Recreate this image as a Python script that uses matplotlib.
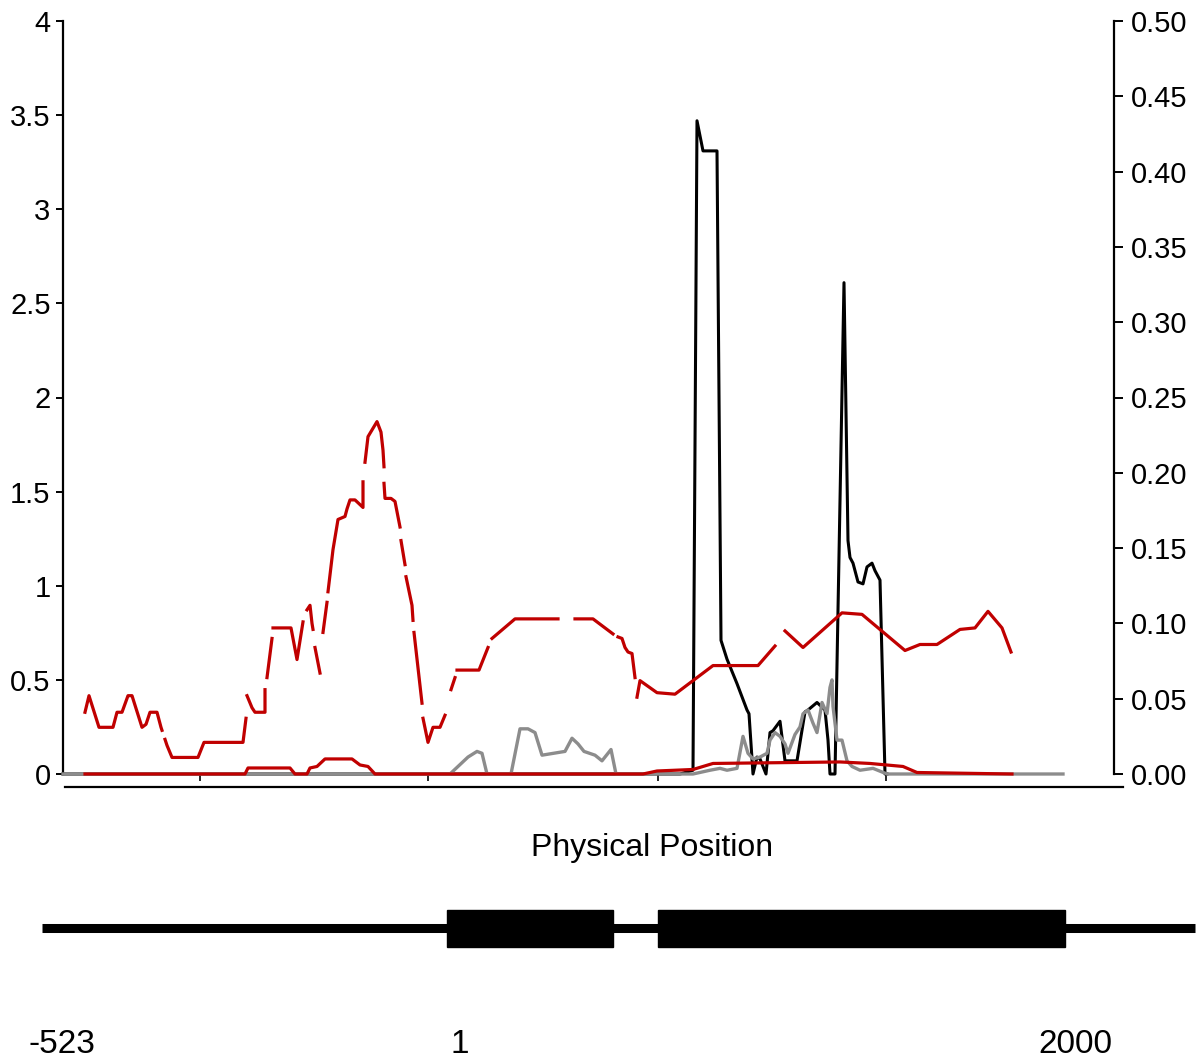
"""Sliding-window statistics along the gene, with gene model underneath."""
import numpy as np
import matplotlib
matplotlib.use("Agg")
import matplotlib.pyplot as plt
from matplotlib.lines import Line2D
from matplotlib.patches import Rectangle

plt.rcParams["font.family"] = ["Liberation Sans", "DejaVu Sans"]

# ---- data (x = position index along the plotted window) -------------------
# left axis series
black_x = [0, 617, 630, 634, 640, 654, 658, 664, 674, 679, 684, 686, 690, 694,
           697, 703, 707, 710, 717, 722, 734, 742, 745, 754, 762, 765, 767, 772,
           781, 785, 787, 790, 795, 800, 804, 809, 812, 817, 822, 824]
black_y = [0, 0, 0.02, 3.47, 3.31, 3.31, 0.71, 0.61, 0.48, 0.41, 0.34, 0.32, 0,
           0.09, 0.08, 0, 0.22, 0.23, 0.28, 0.07, 0.07, 0.33, 0.34, 0.38, 0.34,
           0.18, 0, 0, 2.61, 1.24, 1.15, 1.12, 1.02, 1.01, 1.10, 1.12, 1.08,
           1.03, 0, 0]

gray_x = [0, 387, 405, 414, 419, 424, 448, 457, 465, 472, 479, 502, 509, 515,
          521, 532, 539, 548, 553, 630, 647, 657, 664, 674, 680, 685, 690, 697,
          704, 707, 712, 717, 722, 725, 732, 737, 740, 745, 750, 754, 759, 764,
          767, 769, 770, 774, 779, 784, 789, 797, 810, 824, 830, 1000]
gray_y = [0, 0, 0.09, 0.12, 0.11, 0, 0, 0.24, 0.24, 0.22, 0.10, 0.12, 0.19,
          0.16, 0.12, 0.10, 0.07, 0.13, 0, 0, 0.02, 0.03, 0.02, 0.03, 0.20, 0.11,
          0.08, 0.09, 0.11, 0.18, 0.22, 0.20, 0.16, 0.11, 0.21, 0.25, 0.32, 0.34,
          0.27, 0.22, 0.38, 0.32, 0.46, 0.50, 0.36, 0.18, 0.18, 0.07, 0.04, 0.02,
          0.03, 0, 0, 0]

# right axis series (None = window missing)
red_hi_x = [22, 26, 36, 50, 54, 59, 65, 69, 79, 83, 87, 94, 98, 99, None,
            102, 104, 109, 135, 141, 180, 183, None,
            184, 189, 192, 202, 202, None,
            204, 209, None,
            210, 228, 234, 240, None,
            244, 247, 249, 250, None,
            252, 257, None,
            260, 264, None,
            265, 270, 272, 275, 282, 284, 287, 292, 300, 300, None,
            302, 305, 314, 318, 320, 321, None,
            321, 322, 328, 332, 337, None,
            338, 342, None,
            343, 349, 350, None,
            351, 359, None,
            360, 365, 370, 377, 382, None,
            388, 392, None,
            394, 416, 425, None,
            429, 452, 495, None,
            512, 530, 550, None,
            555, 559, 562, 565, 569, 572, None,
            574, 577, 594, 612, 630, 650, 695, 712, None,
            722, 740, 779, 799, 842, 857, 874, 897, 912, 925, 939, 948]
red_hi_y = [.041, .052, .031, .031, .041, .041, .052, .052, .031, .033, .041, .041, .031, .029, None,
            .023, .019, .011, .011, .021, .021, .037, None,
            .052, .044, .041, .041, .056, None,
            .064, .090, None,
            .097, .097, .076, .101, None,
            .109, .112, .100, .096, None,
            .084, .067, None,
            .094, .114, None,
            .121, .149, .157, .169, .171, .176, .182, .182, .177, .194, None,
            .207, .224, .234, .227, .215, .204, None,
            .193, .183, .183, .181, .164, None,
            .155, .139, None,
            .131, .112, .102, None,
            .094, .047, None,
            .037, .021, .031, .031, .039, None,
            .056, .064, None,
            .069, .069, .084, None,
            .090, .103, .103, None,
            .103, .103, .093, None,
            .091, .090, .084, .081, .080, .064, None,
            .051, .062, .054, .053, .062, .072, .072, .085, None,
            .095, .084, .107, .106, .082, .086, .086, .096, .097, .108, .097, .081]

red_lo_x = [22, 182, 185, 227, 232, 244, 247, 254, 262, 289, 297, 305, 312,
            580, 594, 630, 650, 777, 807, 840, 854, 949]
red_lo_y = [0, 0, 0.004, 0.004, 0, 0, 0.004, 0.005, 0.010, 0.010, 0.006, 0.005,
            0, 0, 0.002, 0.003, 0.007, 0.008, 0.007, 0.005, 0.001, 0]

x_ticks = [137, 365, 595, 823]
left_ticks = [0, 0.5, 1, 1.5, 2, 2.5, 3, 3.5, 4]
left_labels = ["0", "0.5", "1", "1.5", "2", "2.5", "3", "3.5", "4"]
right_ticks = [0, 0.05, 0.10, 0.15, 0.20, 0.25, 0.30, 0.35, 0.40, 0.45, 0.50]

# gene model (bp; upstream region drawn compressed)
gene_span = (-1309, 2420)
exons = [(1, 538), (683, 2000)]
gene_label_pos = [-1244, 43, 2032]
gene_labels = ["-523", "1", "2000"]

RED = "#C00000"
GRAY = "#8C8C8C"

fig = plt.figure(figsize=(12, 10.6), dpi=100)
ax = fig.add_axes([63 / 1200, 286 / 1060, 1051 / 1200, 753 / 1060])
ax.set_xlim(0, 1051)
ax.set_ylim(0, 4)

ax.plot(black_x, black_y, color="black", lw=2.2, clip_on=False, zorder=2)
ax.plot(gray_x, gray_y, color=GRAY, lw=2.4, clip_on=False, zorder=3)

ax2 = ax.twinx()
ax2.set_ylim(0, 0.5)
ax2.plot(np.array(red_lo_x, dtype=float), np.array(red_lo_y, dtype=float),
         color=RED, lw=2.3, clip_on=False)
ax2.plot(np.array(red_hi_x, dtype=float), np.array(red_hi_y, dtype=float),
         color=RED, lw=2.3, clip_on=False)

for a in (ax, ax2):
    a.spines["top"].set_visible(False)
    a.spines["bottom"].set_visible(False)
ax.spines["right"].set_visible(False)
ax2.spines["left"].set_visible(False)
ax.spines["left"].set_linewidth(1.6)
ax2.spines["right"].set_linewidth(1.6)

ax.set_xticks(x_ticks)
ax.tick_params(axis="x", direction="out", length=5, width=1.2, labelbottom=False)
ax.set_yticks(left_ticks)
ax.set_yticklabels(left_labels)
ax.tick_params(axis="y", direction="out", length=5, width=1.4, pad=4, labelsize=21)
ax2.set_yticks(right_ticks)
ax2.set_yticklabels([f"{t:.2f}" for t in right_ticks])
ax2.tick_params(axis="y", direction="out", length=6.5, width=1.4, pad=6, labelsize=21)

# baseline drawn under the plot area
fig.add_artist(Line2D([65 / 1200, 1123 / 1200], [1 - 787 / 1060] * 2,
                      color="black", lw=1.6))
fig.text(652 / 1200, 1 - 848 / 1060, "Physical Position", ha="center",
         va="center", fontsize=23)

# gene structure
axg = fig.add_axes([0, 0, 1, 180 / 1060])
axg.set_xlim(-1445, 2436)
axg.set_ylim(-3.57, 1.30)
axg.axis("off")
axg.plot(gene_span, [0, 0], color="black", lw=6.5, solid_capstyle="butt")
for s, e in exons:
    axg.add_patch(Rectangle((s, -0.5), e - s, 1.0, color="black"))
for p, t in zip(gene_label_pos, gene_labels):
    axg.text(p, -3.16, t, ha="center", va="center", fontsize=24)

fig.savefig("out.png", dpi=100)
